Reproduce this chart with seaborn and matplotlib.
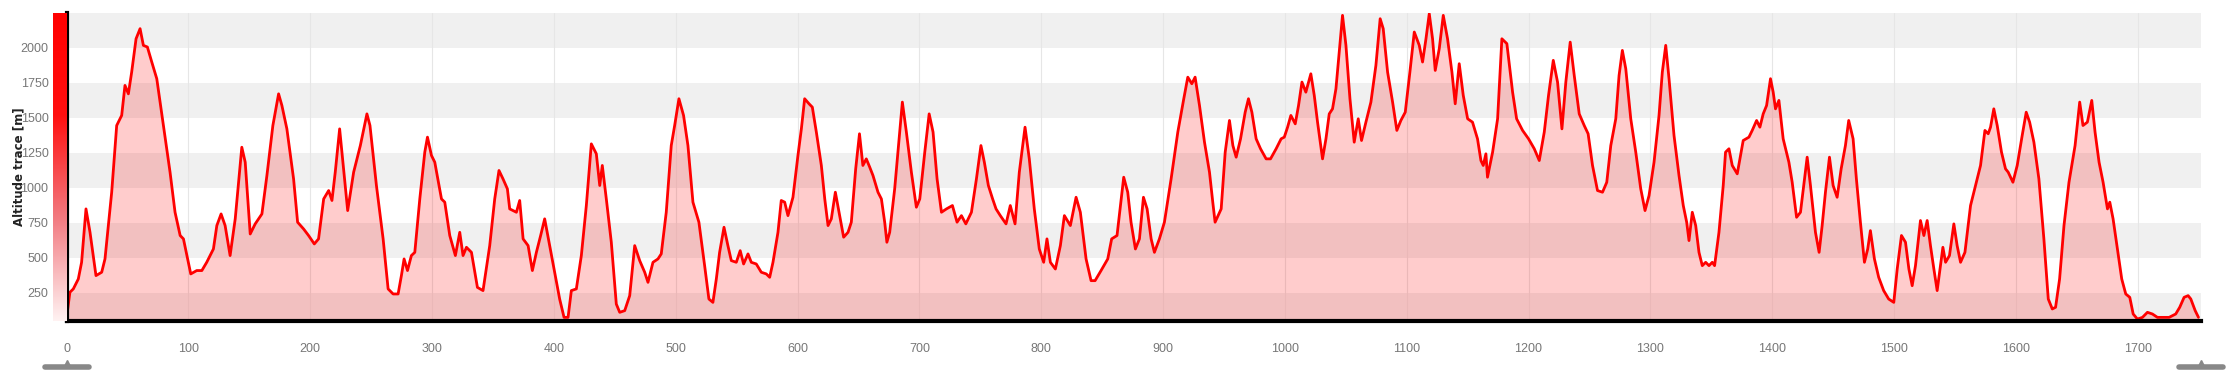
import numpy as np
import pandas as pd
import matplotlib
matplotlib.use("Agg")
import matplotlib.pyplot as plt
import seaborn as sns
from matplotlib.colors import LinearSegmentedColormap

# Altitude profile (distance in km, altitude in m)
distance_km = [
    0, 2.7, 5.5, 9.6, 12.3, 15.9, 19.2, 24.1, 28.8, 31.5, 37, 41.1, 45.2, 47.9, 50.7, 53.4, 57, 60.3, 63, 66.3,
    69.9, 74, 79.5, 84.9, 89, 93.2, 95.9, 101.9, 106.8, 111, 115, 120.5, 123.3, 126.8, 130.1, 134.2, 138.4, 143.8,
    146.6, 150.7, 154.8, 160.3, 164.4, 169.3, 174, 176.7, 180.8, 186.3, 189.6, 194.5, 198.6, 203.3, 206.8, 211,
    215.1, 217.8, 220.5, 224.1, 226.8, 230.7, 235.6, 241.1, 246.5, 249, 254.3, 259.8, 263.9, 268, 272.1, 274.8,
    277, 279.8, 283, 285.8, 289.9, 294, 296.2, 299.5, 302.2, 307.7, 310.4, 314.5, 319.1, 322.7, 325.4, 328.2,
    332.3, 337.2, 341.8, 347.3, 351.4, 354.9, 358.2, 361.8, 363.7, 369.2, 371.9, 374.7, 378.8, 382.3, 385.6,
    389.1, 392.4, 396.5, 400.6, 404.7, 408.3, 411.6, 414.3, 418.4, 422.5, 426.6, 430.7, 434.8, 437.6, 439.7, 443,
    447.1, 451.2, 454, 458.1, 462.2, 466.3, 470.4, 474.5, 477.2, 481.3, 485.4, 488.1, 492.2, 496.3, 499.1, 502.6,
    506.4, 510, 514.1, 519, 523.7, 527.2, 530.5, 533.3, 536, 539.6, 542.8, 545.6, 549.7, 552.9, 555.7, 559.3, 562,
    566.1, 570.2, 574.3, 577.1, 579.8, 583.9, 586.6, 589.4, 592.1, 596.2, 600.3, 603.1, 605.8, 609.4, 612.1,
    615.4, 619.5, 622.3, 625, 627.7, 631, 634.5, 637.8, 641.4, 644.1, 647.7, 650.8, 653.6, 656.4, 659.2, 661.9,
    666, 668.8, 671.5, 673.3, 675.6, 679.7, 683.3, 686, 689.3, 693.4, 697.5, 700.3, 704.4, 708, 711.2, 714.5,
    718.1, 722.2, 727.1, 730.9, 734.5, 738.1, 742.7, 746.8, 750.5, 753.3, 756.6, 760.1, 762.9, 766.4, 771.1,
    774.6, 778.5, 782, 786.7, 790.2, 794.3, 798.4, 802, 804.7, 807.5, 811.6, 815.7, 819, 823.9, 828.6, 832.1,
    836.8, 840.9, 844.2, 849.1, 854.6, 857.8, 862.2, 867.7, 871, 873.7, 877.3, 880.6, 883.9, 886.9, 890.2, 892.9,
    897, 901.1, 906.6, 912.1, 917, 920.3, 923.6, 926.3, 929.9, 934, 938.1, 940.8, 942.7, 947.7, 951, 954.5, 957.3,
    960, 963.6, 967.4, 970.1, 972.9, 976.4, 980, 984.6, 988.2, 992.8, 996.9, 999.5, 1002.2, 1004.9, 1008.5,
    1011.2, 1014, 1017.2, 1021.3, 1024.1, 1026.8, 1030.9, 1033.7, 1036.4, 1039.1, 1041.9, 1044.6, 1047.3, 1050.1,
    1053.4, 1056.9, 1060.2, 1062.9, 1066.5, 1070.6, 1074.7, 1078.2, 1080.7, 1084.3, 1088.4, 1091.9, 1095.2,
    1098.8, 1102.6, 1106.2, 1110.3, 1113, 1115.8, 1118.5, 1121.2, 1123.4, 1126.7, 1130, 1133.5, 1137.1, 1139.8,
    1143.1, 1146.4, 1150, 1154, 1158.1, 1160.9, 1162.8, 1165, 1166.3, 1170.5, 1174.6, 1178.1, 1182.2, 1186.9,
    1190.2, 1195.1, 1200, 1204.7, 1208.8, 1212.9, 1216.4, 1220.3, 1223.8, 1227.4, 1230.6, 1234.2, 1237.5, 1241.6,
    1245.7, 1248.9, 1252.5, 1256.6, 1260.7, 1264.2, 1267.5, 1271.6, 1274.3, 1277, 1279.8, 1283.9, 1288, 1292.1,
    1295.6, 1298.9, 1303, 1307.1, 1309.8, 1312.6, 1315.3, 1319.4, 1323.5, 1327, 1329.8, 1331.7, 1334.4, 1337.2,
    1339.9, 1342.6, 1345.4, 1348.1, 1350.8, 1352.7, 1356.3, 1359.8, 1361.7, 1364.5, 1367.2, 1371.3, 1374, 1376.2,
    1380.9, 1383.6, 1387.2, 1389.9, 1392.6, 1395.4, 1398.6, 1400.8, 1402.7, 1405.5, 1409, 1413.7, 1416.4, 1420,
    1423.2, 1425.9, 1428.7, 1431.4, 1435.5, 1438.5, 1441, 1443.7, 1447, 1450, 1453.3, 1456.6, 1460.1, 1462.8,
    1466.4, 1469.1, 1472.4, 1475.7, 1478.4, 1480.6, 1483.9, 1487.4, 1491.5, 1495.6, 1499.8, 1502.6, 1506.1,
    1509.4, 1512.2, 1514.9, 1517.6, 1521.7, 1524.5, 1527.2, 1529.9, 1532.7, 1535.4, 1538.1, 1540.1, 1542.3,
    1545.5, 1549.1, 1551.8, 1554.6, 1558.2, 1562.8, 1566.9, 1571, 1574.6, 1577.3, 1579.2, 1581.9, 1584.7, 1588.2,
    1591.5, 1593.7, 1597.6, 1601.1, 1605.2, 1608.5, 1611.3, 1614.8, 1618.9, 1623, 1626.6, 1629.9, 1632.6, 1635.9,
    1639.5, 1643.6, 1648.6, 1652.4, 1655.1, 1658.7, 1662.3, 1665, 1668.3, 1671.6, 1675.2, 1677.1, 1679.8, 1683.4,
    1686.9, 1690.2, 1693.5, 1696.3, 1699.8, 1703.9, 1708, 1712.1, 1716.2, 1720.3, 1725.8, 1731.2, 1734.5, 1738.1,
    1741.4, 1743.6, 1747.2, 1749.9,
]
altitude_m = [
    76, 255, 279, 350, 469, 850, 683, 374, 398, 493, 969, 1445, 1517, 1731, 1671, 1826, 2064, 2136, 2017, 2005,
    1898, 1779, 1445, 1112, 826, 660, 636, 386, 410, 410, 469, 564, 731, 814, 731, 517, 779, 1290,
    1183, 671, 743, 814, 1088, 1445, 1671, 1588, 1421, 1064, 755, 707, 660, 600, 636, 921,
    981, 910, 1112, 1421, 1183, 838, 1112, 1302, 1528, 1445, 1017, 636, 279, 243, 243, 374,
    493, 410, 517, 540, 921, 1255, 1362, 1231, 1183, 921, 898, 660, 517, 683, 517, 576,
    540, 290, 267, 588, 921, 1124, 1064, 993, 850, 826, 910, 636, 588, 410, 540,
    660, 779, 588, 398, 207, 76, 76, 267, 279, 517, 874, 1314, 1243, 1017, 1160, 921,
    612, 171, 112, 124, 231, 588, 481, 398, 326, 469, 493, 529, 826, 1302, 1445, 1636,
    1517, 1302, 898, 755, 445, 207, 183, 350, 540, 719, 588, 481, 469, 552, 457, 529, 469,
    457, 398, 386, 362, 469, 683, 910, 898, 802, 933, 1231, 1421, 1636, 1600, 1576,
    1398, 1160, 921, 731, 779, 969, 802, 648, 683, 755, 1136, 1386, 1160, 1207, 1148, 1088,
    969, 921, 755, 612, 683, 993, 1350, 1612, 1398, 1112, 862, 921, 1255, 1528, 1398, 1064,
    826, 850, 874, 755, 802, 743, 826, 1064, 1302, 1183, 1017, 921, 850, 802, 743,
    874, 743, 1112, 1433, 1207, 850, 564, 469, 636, 469, 421, 588, 802, 731, 933, 826,
    493, 338, 338, 410, 493, 636, 660, 1076, 969, 755, 564, 636, 933, 850, 636, 540,
    636, 755, 1064, 1398, 1636, 1790, 1743, 1790, 1588, 1326, 1112, 898, 755, 850, 1255, 1481, 1302,
    1219, 1350, 1540, 1636, 1540, 1350, 1279, 1207, 1207, 1279, 1350, 1362, 1433, 1517, 1457,
    1588, 1755, 1683, 1814, 1660, 1469, 1207, 1350, 1528, 1564, 1707, 1969, 2231, 2017,
    1636, 1326, 1493, 1338, 1469, 1612, 1874, 2207, 2136, 1826, 1612, 1410, 1481,
    1540, 1826, 2112, 2017, 1898, 2064, 2243, 2064, 1838, 1993, 2231, 2064, 1826, 1600,
    1886, 1660, 1493, 1469, 1350, 1195, 1160, 1243, 1076, 1255, 1493, 2064, 2029, 1683,
    1493, 1410, 1350, 1279, 1195, 1398, 1660, 1910, 1755, 1421, 1755, 2040, 1802, 1528,
    1445, 1386, 1160, 981, 969, 1040, 1302, 1493, 1802, 1981, 1850, 1493, 1255, 993,
    838, 945, 1183, 1517, 1826, 2017, 1779, 1374, 1088, 874, 755, 624, 826, 731,
    540, 445, 469, 445, 469, 445, 683, 1017, 1255, 1279, 1160, 1100, 1231, 1338,
    1362, 1410, 1481, 1433, 1528, 1588, 1779, 1683, 1564, 1624, 1350, 1183, 1040, 790,
    826, 1017, 1219, 1017, 683, 540, 731, 969, 1219, 1017, 933, 1136, 1302, 1481,
    1350, 1064, 755, 469, 564, 695, 493, 362, 267, 207, 183, 421, 660,
    612, 421, 302, 445, 767, 660, 767, 588, 421, 267, 445, 576, 469,
    517, 743, 588, 469, 540, 874, 1017, 1160, 1410, 1386, 1433, 1564, 1445, 1255,
    1136, 1112, 1040, 1160, 1374, 1540, 1469, 1326, 1064, 636, 207, 136, 148, 350,
    731, 1040, 1302, 1612, 1445, 1469, 1624, 1398, 1183, 1040, 850, 898, 779, 564,
    350, 243, 219, 100, 64, 76, 112, 100, 76, 76, 76, 100, 148, 219,
    231, 207, 124, 76,
]
y_ticks = [250, 500, 750, 1000, 1250, 1500, 1750, 2000]
x_ticks = [0, 100, 200, 300, 400, 500, 600, 700, 800, 900, 1000, 1100, 1200, 1300, 1400, 1500, 1600, 1700]
band_edges = [0, 250, 500, 750, 1000, 1250, 1500, 1750, 2000, 2250]

df = pd.DataFrame({"distance": distance_km, "altitude": altitude_m})

sns.set_style("white")
plt.rcParams["font.family"] = ["Liberation Sans Narrow", "Liberation Sans", "DejaVu Sans"]

fig = plt.figure(figsize=(22.28, 3.79), dpi=100)
ax = fig.add_axes([0.0299, 0.153, 0.958, 0.8135])

x_min, x_max = 0, 1752
y_min, y_max = 50, 2250

# alternating horizontal bands
for i in range(len(band_edges) - 1):
    if i % 2 == 0:
        ax.axhspan(band_edges[i], band_edges[i + 1], color="#f0f0f0", lw=0, zorder=0)

for xt in x_ticks:
    ax.axvline(xt, color="#e6e6e6", lw=0.8, zorder=0.5)

ax.fill_between(df["distance"], y_min, df["altitude"], color="#ff0000", alpha=0.2, lw=0, zorder=1)
sns.lineplot(data=df, x="distance", y="altitude", color="#ff0000", lw=2, ax=ax, zorder=2)

ax.set_xlim(x_min, x_max)
ax.set_ylim(y_min, y_max)
ax.set_xticks(x_ticks)
ax.set_yticks(y_ticks)
ax.set_xlabel("")
ax.set_ylabel("Altitude trace [m]", fontsize=8.5, fontweight="bold", color="#222222",
              family=["DejaVu Sans"])
ax.yaxis.set_label_coords(-0.0195, 0.5)
ax.tick_params(axis="x", colors="#000000", labelcolor="#777777", length=10, width=3, labelsize=9, pad=6)
ax.tick_params(axis="y", colors="#999999", labelcolor="#777777", length=12, width=1, labelsize=9, pad=1)

for side in ["top", "right"]:
    ax.spines[side].set_visible(False)
ax.spines["left"].set_color("black")
ax.spines["left"].set_linewidth(3)
ax.spines["bottom"].set_color("black")
ax.spines["bottom"].set_linewidth(3)

# red gradient strip on the left of the y axis
cmap = LinearSegmentedColormap.from_list("strip", ["#fff2f2", "#f27a80", "#ff1010", "#ff0000"])
strip = ax.inset_axes([-0.0062, 0.0, 0.0062, 1.0])
strip.imshow(np.linspace(1, 0, 256).reshape(-1, 1), aspect="auto", cmap=cmap, extent=[0, 1, 0, 1])
strip.set_axis_off()

# slider handles under the x axis
for xh in [x_min, x_max]:
    ax.plot([xh - 18, xh + 18], [-0.15, -0.15], transform=ax.get_xaxis_transform(),
            color="#888888", lw=4, solid_capstyle="round", clip_on=False)
    ax.plot([xh], [-0.135], transform=ax.get_xaxis_transform(), marker="^", ms=5,
            color="#888888", clip_on=False)

fig.savefig("out.png", dpi=100)
